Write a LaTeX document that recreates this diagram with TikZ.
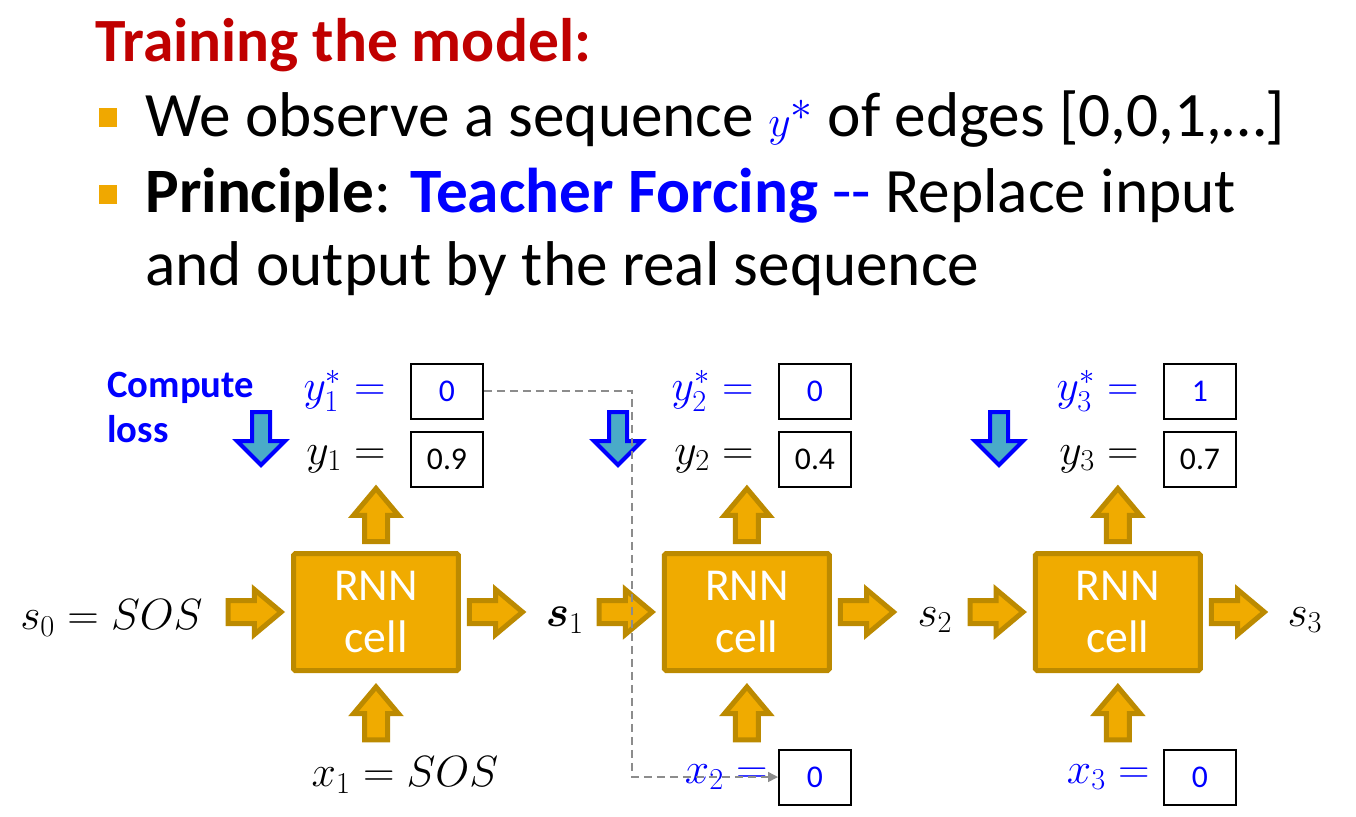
\documentclass[tikz,border=0pt]{standalone}
\usepackage{fontspec}
\setmainfont{Carlito}
\usepackage{bm}
\usetikzlibrary{shapes.arrows,arrows.meta,positioning,calc}

\definecolor{titlered}{HTML}{C00000}
\definecolor{bulletorange}{HTML}{F0A800}
\definecolor{tfblue}{HTML}{0000FF}
\definecolor{cellgold}{HTML}{F0AB00}
\definecolor{edgegold}{HTML}{BC8A00}
\definecolor{losscyan}{HTML}{4AABC8}
\definecolor{dashgray}{HTML}{8C8C8C}

\begin{document}
\begin{tikzpicture}[x=0.02cm, y=-0.02cm,
    title/.style={font=\fontsize{35}{42}\selectfont\bfseries, text=titlered, inner sep=0pt},
    body/.style={font=\fontsize{36}{43}\selectfont, inner sep=0pt},
    bul/.style={fill=bulletorange, minimum size=0.38cm, inner sep=0pt},
    cell/.style={draw=edgegold, fill=cellgold, line width=0.1cm, rounded corners=1pt,
      minimum width=3.3cm, minimum height=2.34cm, align=center, text=white,
      font=\fontsize{26}{30}\selectfont},
    fatarrow/.style={single arrow, draw=edgegold, fill=cellgold, line width=0.1cm,
      inner xsep=0pt, inner ysep=0.18cm, single arrow head extend=0.22cm,
      single arrow tip angle=80, minimum height=1.06cm},
    lossarrow/.style={single arrow, draw=tfblue, fill=losscyan, line width=0.08cm,
      inner xsep=0pt, inner ysep=0.14cm, single arrow head extend=0.3cm,
      single arrow tip angle=90, minimum height=1.06cm},
    valbox/.style={draw, line width=0.04cm, minimum width=1.44cm, minimum height=1.1cm,
      inner sep=0pt, font=\fontsize{18}{20}\selectfont},
    lbl/.style={inner sep=0pt, font=\fontsize{27}{31}\selectfont},
    teach/.style={dashgray, line width=0.03cm, dash pattern=on 0.16cm off 0.1cm,
      -{Triangle[length=0.2cm, width=0.2cm]}}
  ]
  \useasboundingbox (0,0) rectangle (1356,816);

  % Text block
  \node[title, anchor=base west] (title) at (95,61) {Training the model:};
  \node[bul] (b1) at (108,117) {};
  \node[body, anchor=base west] (l1) at (145,136)
    {We observe a sequence \textcolor{tfblue}{$y^*$} of edges [0,0,1,…]};
  \node[bul] (b2) at (108,194) {};
  \node[body, anchor=base west] (l2) at (145,212)
    {\textbf{Principle}: \textcolor{tfblue}{\textbf{Teacher Forcing} -{}-} Replace input};
  \node[body, anchor=base west] (l3) at (145,285) {and output by the real sequence};

  % RNN cells
  \node[cell] (rnn1) at (376,612) {RNN\\cell};
  \node[cell, right=4.02cm of rnn1] (rnn2) {RNN\\cell};
  \node[cell, right=4.02cm of rnn2] (rnn3) {RNN\\cell};

  % Fat arrows round the cells
  \foreach \c in {1,2,3} {
    \node[fatarrow, rotate=90, anchor=tail] (up\c) at ([yshift=0.14cm]rnn\c.north) {};
    \node[fatarrow, rotate=90, anchor=tip] (in\c) at ([yshift=-0.2cm]rnn\c.south) {};
    \node[fatarrow, anchor=tip] (left\c) at ([xshift=-0.12cm]rnn\c.west) {};
    \node[fatarrow, anchor=tail] (right\c) at ([xshift=0.12cm]rnn\c.east) {};
  }

  % States
  \node[lbl, anchor=east] (s0) at (203,618) {$s_0 = SOS$};
  \node[lbl] (s1) at (565,620) {$\bm{s}_1$};
  \node[lbl] (s2) at (935,620) {$s_2$};
  \node[lbl] (s3) at (1305,620) {$s_3$};

  % Outputs
  \node[valbox, text=tfblue] (ys1) at (447,391) {0};
  \node[valbox] (yv1) at (447,459) {0.9};
  \node[valbox, text=tfblue] (ys2) at (815,391) {0};
  \node[valbox] (yv2) at (815,459) {0.4};
  \node[valbox, text=tfblue] (ys3) at (1200,391) {1};
  \node[valbox] (yv3) at (1200,459) {0.7};
  \foreach \c in {1,2,3} {
    \node[lbl, text=tfblue, left=0.48cm of ys\c] (ysl\c) {$y_\c^* =$};
    \node[lbl, left=0.48cm of yv\c] (yvl\c) {$y_\c =$};
  }

  % Compute loss
  \node[font=\fontsize{22}{25.5}\selectfont\bfseries, text=tfblue, align=left,
    anchor=north west, inner sep=0pt] (loss) at (107,372) {Compute\\loss};
  \node[lossarrow, rotate=-90, anchor=tail] (down1) at (261,410) {};
  \node[lossarrow, rotate=-90, anchor=tail] (down2) at (618,410) {};
  \node[lossarrow, rotate=-90, anchor=tail] (down3) at (999,410) {};

  % Inputs
  \node[lbl] (x1) at (405,775) {$x_1 = SOS$};
  \node[valbox, text=tfblue] (x2b) at (815,777) {0};
  \node[valbox, text=tfblue] (x3b) at (1200,777) {0};
  \node[lbl, text=tfblue, left=0.2cm of x2b] (x2) {$x_2 =$};
  \node[lbl, text=tfblue, left=0.26cm of x3b] (x3) {$x_3 =$};

  % Teacher forcing
  \coordinate (bend) at (632,391);
  \draw[teach] (ys1.east) -- (bend) |- (x2b.west);
\end{tikzpicture}
\end{document}
